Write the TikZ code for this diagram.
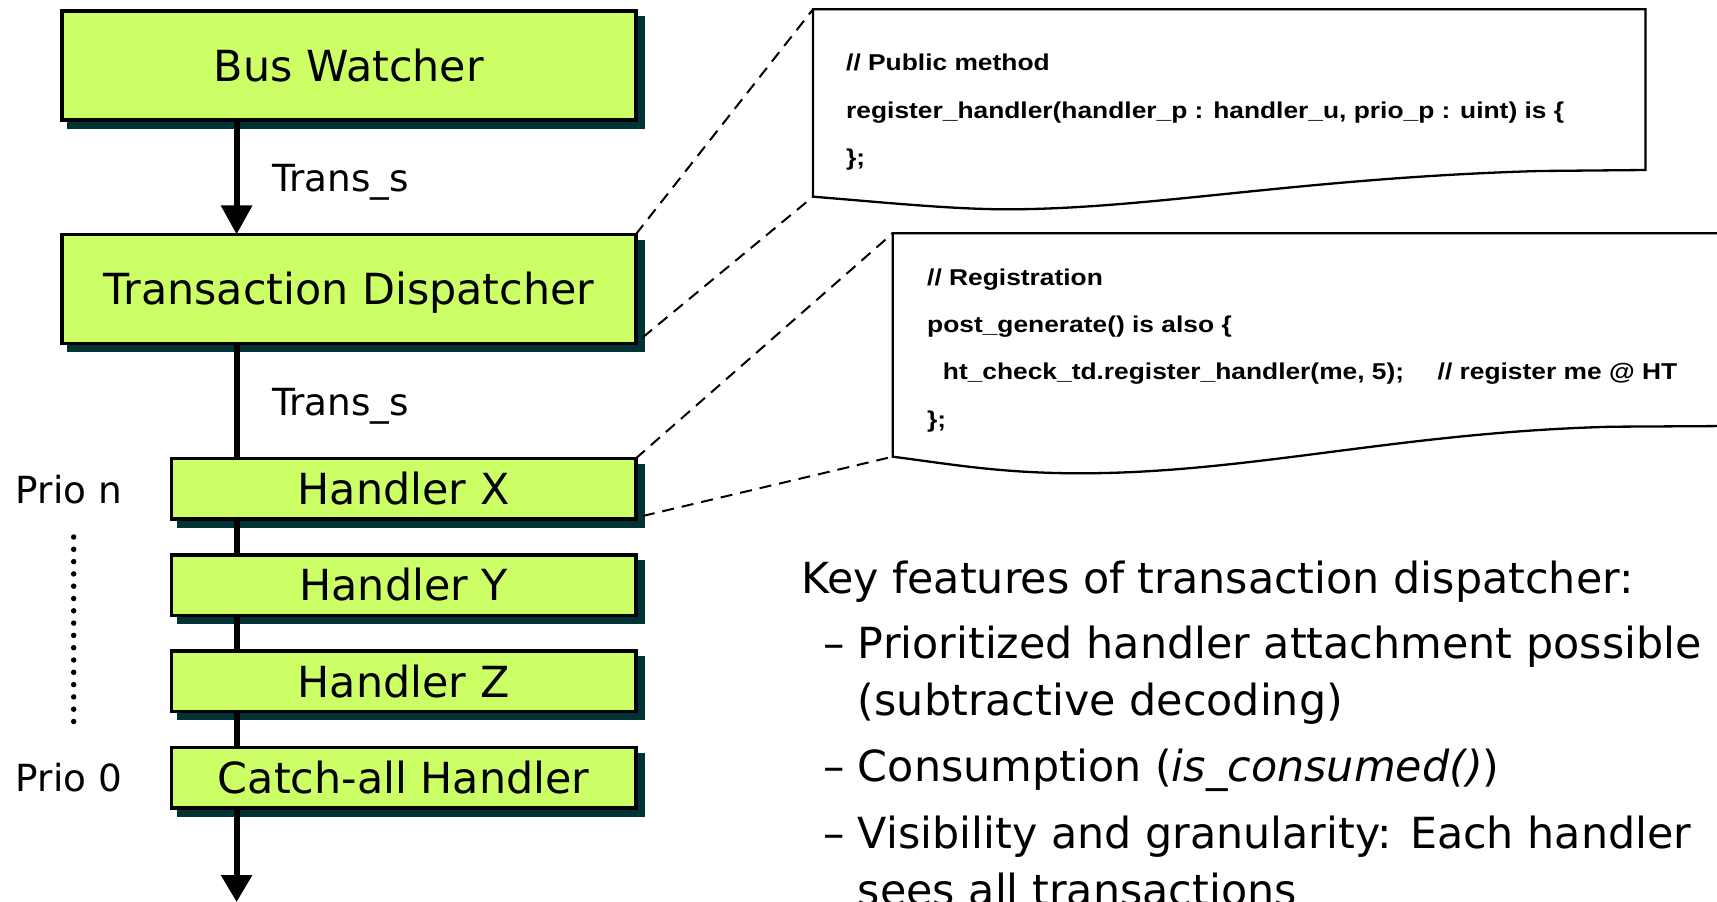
\documentclass[tikz,border=0pt]{standalone}
\usepackage{fontspec}
\setmainfont{DejaVu Sans}
\newfontfamily\codefont{Liberation Sans}[FakeStretch=1.15]
\usetikzlibrary{positioning}
\usetikzlibrary{calc}
\usetikzlibrary{arrows.meta}
\usetikzlibrary{shadows}
\definecolor{boxgreen}{RGB}{204,255,102}
\definecolor{shadowteal}{RGB}{0,51,51}

\begin{document}
\begin{tikzpicture}[x=1bp, y=-1bp,
    block/.style={draw, line width=3.5bp, fill=boxgreen, inner sep=0pt, outer sep=0pt,
        text height=31.5bp, text depth=0bp, font=\fontsize{43}{50}\selectfont,
        general shadow={fill=shadowteal, draw=shadowteal, shadow xshift=7bp, shadow yshift=-7bp}},
    bigblock/.style={block, minimum width=573.7bp, minimum height=108.9bp},
    handler/.style={block, minimum width=464.4bp, minimum height=60.5bp},
    lbl/.style={inner sep=0pt, anchor=base west, font=\fontsize{37.5}{44}\selectfont},
    codeline/.style={inner sep=0pt, anchor=base west, font=\codefont\bfseries\fontsize{23}{28}\selectfont},
    keyline/.style={inner sep=0pt, anchor=base west, font=\fontsize{43}{52}\selectfont},
    featline/.style={inner sep=0pt, anchor=base west, font=\fontsize{43}{52}\selectfont},
    flow/.style={line width=6bp},
    leader/.style={line width=2bp, dash pattern=on 12bp off 8bp},
    codebox/.style={line width=2.3bp, fill=white}]
    \useasboundingbox (0,0) rectangle (1717,901);
    \clip (0,0) rectangle (1717,901);

    % left column
    \node[bigblock] (bw) at (348.9,65.5) {Bus Watcher};
    \node[bigblock] (td) at (348.9,288.9) {Transaction Dispatcher};
    \node[handler] (hx) at (403.6,488.7) {Handler X};
    \node[handler, below=35.8bp of hx] (hy) {Handler Y};
    \node[handler, below=35.8bp of hy] (hz) {Handler Z};
    \node[handler, below=35.8bp of hz] (cah) {Catch-all Handler};

    \coordinate (bus) at (236.6,0);
    \coordinate (out) at (236.6,902);
    \draw[flow, -{Triangle[width=30bp,length=29bp]}] (bus |- bw.south) -- (bus |- td.north);
    \draw[flow] (bus |- td.south) -- (bus |- hx.north);
    \draw[flow] (bus |- hx.south) -- (bus |- hy.north);
    \draw[flow] (bus |- hy.south) -- (bus |- hz.north);
    \draw[flow] (bus |- hz.south) -- (bus |- cah.north);
    \draw[flow, -{Triangle[width=30bp,length=27bp]}] (bus |- cah.south) -- (out);

    \node[lbl] (ts1) at (272,191.7) {Trans\_s};
    \node[lbl] (ts2) at (272,415) {Trans\_s};
    \node[lbl] (prion) at (15.6,503.3) {Prio n};
    \node[lbl] (prio0) at (15.6,791.7) {Prio 0};
    \draw[line width=5.5bp, line cap=round, dash pattern=on 0bp off 12.3bp] (73.7,537) -- (73.7,722);

    % code call-outs
    \coordinate (pubnw) at (813,9.3);
    \coordinate (pubsw) at (813,196.7);
    \coordinate (regnw) at (892.7,233.3);
    \coordinate (regsw) at (892.7,456.7);
    \draw[codebox] (pubnw) -- (1645.5,9.3) -- (1645.5,170) -- (1539,171)
        .. controls (1300,178) and (1150,209.3) .. (1007,209.3)
        .. controls (950,209.3) and (880,202) .. (pubsw) -- cycle;
    \draw[codebox] (regnw) -- (1730,233.3) -- (1730,426) -- (1613,426.7)
        .. controls (1400,432) and (1250,473.3) .. (1080,473.3)
        .. controls (1000,473.3) and (950,464) .. (regsw) -- cycle;

    \draw[leader] (td.north east) -- (pubnw);
    \draw[leader] ($(td.south east)+(7,-6)$) -- (pubsw);
    \draw[leader] (hx.north east) -- (regnw);
    \draw[leader] ($(hx.south east)+(7,-3)$) -- (regsw);

    \node[codeline] (pub1) at (846,70.7) {// Public method};
    \node[codeline] (pub2) at (846,118) {register\_handler(handler\_p : handler\_u, prio\_p : uint) is \{};
    \node[codeline] (pub3) at (846,165.2) {\};};
    \node[codeline] (reg1) at (927,285) {// Registration};
    \node[codeline] (reg2) at (927,332) {post\_generate() is also \{};
    \node[codeline] (reg3) at (942.7,379.5) {\makebox[494.8bp][l]{ht\_check\_td.register\_handler(me, 5);}// register me @ HT};
    \node[codeline] (reg4) at (927,427) {\};};

    % key features
    \node[keyline] (key) at (801,593.3) {Key features of transaction dispatcher:};
    \node[featline] (f1) at (823,658.3) {\makebox[34.7bp][l]{–}Prioritized handler attachment possible};
    \node[featline] (f1b) at (857.7,715) {(subtractive decoding)};
    \node[featline] (f2) at (823,781.7) {\makebox[34.7bp][l]{–}Consumption (\textit{is\_consumed()})};
    \node[featline] (f3) at (823,848.3) {\makebox[34.7bp][l]{–}Visibility and granularity: Each handler};
    \node[featline] (f3b) at (857.7,905) {sees all transactions};
\end{tikzpicture}
\end{document}
